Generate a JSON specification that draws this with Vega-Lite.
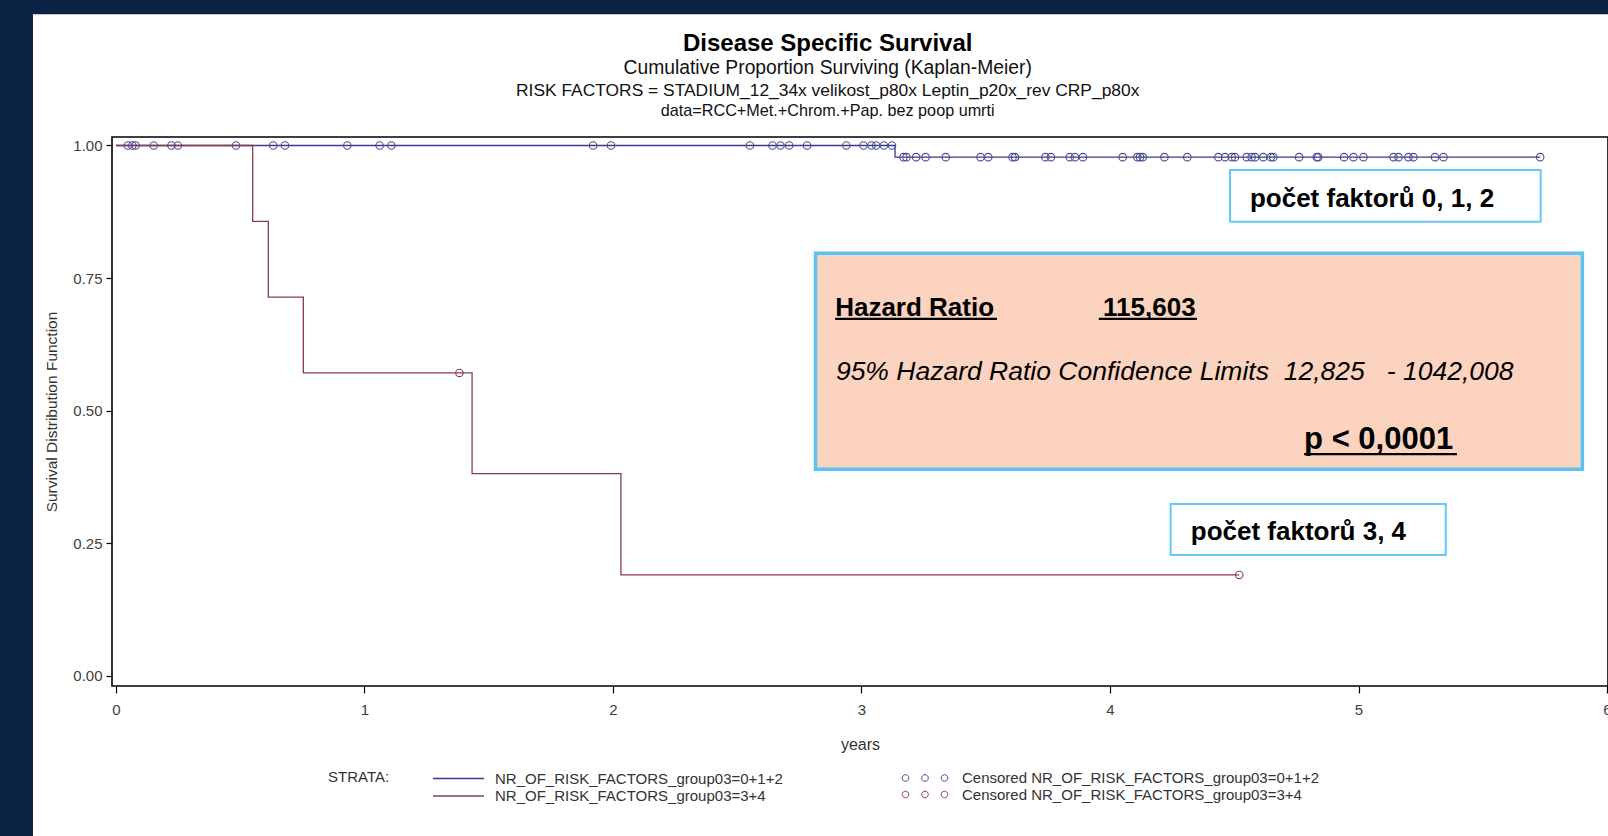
{
  "$schema": "https://vega.github.io/schema/vega-lite/v6.json",
  "width": 1496,
  "height": 549,
  "autosize": {"type": "none"},
  "padding": {"left": 112, "top": 137, "right": 0, "bottom": 150},
  "background": "#ffffff",
  "config": {
    "view": {"stroke": null},
    "font": "Liberation Sans",
    "text": {"font": "Liberation Sans"}
  },
  "resolve": {"axis": {"x": "independent", "y": "independent"}},
  "layer": [
    {
      "data": {"values": [
        {"x0": -0.6, "x1": -0.334, "y0": -0.6, "y1": 1.7},
        {"x0": -0.6, "x1": 6.7, "y0": 1.2476, "y1": 1.7}
      ]},
      "mark": {"type": "rect", "fill": "#0c2244", "clip": false},
      "encoding": {
        "x": {"field": "x0", "type": "quantitative", "scale": {"domain": [-0.016, 6.004], "nice": false, "zero": false}, "axis": null},
        "x2": {"field": "x1"},
        "y": {"field": "y0", "type": "quantitative", "scale": {"domain": [-0.0195, 1.016], "nice": false, "zero": false}, "axis": null},
        "y2": {"field": "y1"}
      }
    },
    {
      "data": {"values": [
        {"strata": "NR_OF_RISK_FACTORS_group03=0+1+2", "years": 0, "survival": 1},
        {"strata": "NR_OF_RISK_FACTORS_group03=0+1+2", "years": 3.135, "survival": 0.978},
        {"strata": "NR_OF_RISK_FACTORS_group03=0+1+2", "years": 5.731, "survival": 0.978},
        {"strata": "NR_OF_RISK_FACTORS_group03=3+4", "years": 0, "survival": 1},
        {"strata": "NR_OF_RISK_FACTORS_group03=3+4", "years": 0.55, "survival": 0.857},
        {"strata": "NR_OF_RISK_FACTORS_group03=3+4", "years": 0.613, "survival": 0.714},
        {"strata": "NR_OF_RISK_FACTORS_group03=3+4", "years": 0.754, "survival": 0.571},
        {"strata": "NR_OF_RISK_FACTORS_group03=3+4", "years": 1.433, "survival": 0.381},
        {"strata": "NR_OF_RISK_FACTORS_group03=3+4", "years": 2.032, "survival": 0.19},
        {"strata": "NR_OF_RISK_FACTORS_group03=3+4", "years": 4.52, "survival": 0.19}
      ]},
      "mark": {"type": "line", "interpolate": "step-after", "strokeWidth": 1.3},
      "encoding": {
        "x": {"field": "years", "type": "quantitative", "scale": {"domain": [-0.016, 6.004], "nice": false, "zero": false},
          "axis": {"orient": "bottom", "title": "years", "values": [0, 1, 2, 3, 4, 5, 6], "format": "d", "grid": false, "domain": false,
            "tickColor": "#000000", "tickSize": 7, "tickWidth": 1.2,
            "labelFontSize": 15, "labelColor": "#404040", "labelPadding": 9, "labelFlush": false, "labelOverlap": false, "labelBound": false,
            "titleFontSize": 16, "titleFontWeight": "normal", "titleColor": "#333333", "titlePadding": 19, "zindex": 1}},
        "y": {"field": "survival", "type": "quantitative", "scale": {"domain": [-0.0195, 1.016], "nice": false, "zero": false},
          "axis": {"orient": "left", "title": "Survival Distribution Function", "values": [0, 0.25, 0.5, 0.75, 1], "format": ".2f", "grid": false, "domain": false,
            "tickColor": "#000000", "tickSize": 6, "tickWidth": 1.2,
            "labelFontSize": 15, "labelColor": "#404040", "labelPadding": 4, "labelFlush": false, "labelOverlap": false,
            "titleFontSize": 15.5, "titleFontWeight": "normal", "titleColor": "#333333", "titlePadding": 13, "zindex": 1}},
        "color": {"field": "strata", "type": "nominal",
          "scale": {"domain": ["NR_OF_RISK_FACTORS_group03=0+1+2", "NR_OF_RISK_FACTORS_group03=3+4"], "range": ["#3a3a8c", "#8c3c4c"]},
          "legend": {"orient": "none", "legendX": 216, "legendY": 633, "direction": "vertical", "title": "STRATA:", "titleOrient": "left",
            "titleAnchor": "start", "titlePadding": 60, "titleFontSize": 15, "titleFontWeight": "normal", "titleColor": "#333333", "titleBaseline": "top",
            "symbolType": "M-3.4,0H3.4", "symbolSize": 225, "symbolStrokeWidth": 1.5, "symbolFillColor": "transparent",
            "labelFontSize": 15, "labelColor": "#333333", "labelOffset": 28, "labelLimit": 600, "rowPadding": 0.5, "padding": 0}}
      }
    },
    {
      "data": {"values": [
        {"cens": "Censored NR_OF_RISK_FACTORS_group03=0+1+2", "years": 0.048, "survival": 1},
        {"cens": "Censored NR_OF_RISK_FACTORS_group03=0+1+2", "years": 0.066, "survival": 1},
        {"cens": "Censored NR_OF_RISK_FACTORS_group03=0+1+2", "years": 0.079, "survival": 1},
        {"cens": "Censored NR_OF_RISK_FACTORS_group03=0+1+2", "years": 0.152, "survival": 1},
        {"cens": "Censored NR_OF_RISK_FACTORS_group03=0+1+2", "years": 0.223, "survival": 1},
        {"cens": "Censored NR_OF_RISK_FACTORS_group03=0+1+2", "years": 0.249, "survival": 1},
        {"cens": "Censored NR_OF_RISK_FACTORS_group03=0+1+2", "years": 0.483, "survival": 1},
        {"cens": "Censored NR_OF_RISK_FACTORS_group03=0+1+2", "years": 0.633, "survival": 1},
        {"cens": "Censored NR_OF_RISK_FACTORS_group03=0+1+2", "years": 0.68, "survival": 1},
        {"cens": "Censored NR_OF_RISK_FACTORS_group03=0+1+2", "years": 0.931, "survival": 1},
        {"cens": "Censored NR_OF_RISK_FACTORS_group03=0+1+2", "years": 1.061, "survival": 1},
        {"cens": "Censored NR_OF_RISK_FACTORS_group03=0+1+2", "years": 1.108, "survival": 1},
        {"cens": "Censored NR_OF_RISK_FACTORS_group03=0+1+2", "years": 1.92, "survival": 1},
        {"cens": "Censored NR_OF_RISK_FACTORS_group03=0+1+2", "years": 1.992, "survival": 1},
        {"cens": "Censored NR_OF_RISK_FACTORS_group03=0+1+2", "years": 2.551, "survival": 1},
        {"cens": "Censored NR_OF_RISK_FACTORS_group03=0+1+2", "years": 2.642, "survival": 1},
        {"cens": "Censored NR_OF_RISK_FACTORS_group03=0+1+2", "years": 2.674, "survival": 1},
        {"cens": "Censored NR_OF_RISK_FACTORS_group03=0+1+2", "years": 2.709, "survival": 1},
        {"cens": "Censored NR_OF_RISK_FACTORS_group03=0+1+2", "years": 2.781, "survival": 1},
        {"cens": "Censored NR_OF_RISK_FACTORS_group03=0+1+2", "years": 2.939, "survival": 1},
        {"cens": "Censored NR_OF_RISK_FACTORS_group03=0+1+2", "years": 3.008, "survival": 1},
        {"cens": "Censored NR_OF_RISK_FACTORS_group03=0+1+2", "years": 3.04, "survival": 1},
        {"cens": "Censored NR_OF_RISK_FACTORS_group03=0+1+2", "years": 3.059, "survival": 1},
        {"cens": "Censored NR_OF_RISK_FACTORS_group03=0+1+2", "years": 3.09, "survival": 1},
        {"cens": "Censored NR_OF_RISK_FACTORS_group03=0+1+2", "years": 3.123, "survival": 1},
        {"cens": "Censored NR_OF_RISK_FACTORS_group03=0+1+2", "years": 3.169, "survival": 0.978},
        {"cens": "Censored NR_OF_RISK_FACTORS_group03=0+1+2", "years": 3.181, "survival": 0.978},
        {"cens": "Censored NR_OF_RISK_FACTORS_group03=0+1+2", "years": 3.22, "survival": 0.978},
        {"cens": "Censored NR_OF_RISK_FACTORS_group03=0+1+2", "years": 3.258, "survival": 0.978},
        {"cens": "Censored NR_OF_RISK_FACTORS_group03=0+1+2", "years": 3.339, "survival": 0.978},
        {"cens": "Censored NR_OF_RISK_FACTORS_group03=0+1+2", "years": 3.479, "survival": 0.978},
        {"cens": "Censored NR_OF_RISK_FACTORS_group03=0+1+2", "years": 3.51, "survival": 0.978},
        {"cens": "Censored NR_OF_RISK_FACTORS_group03=0+1+2", "years": 3.608, "survival": 0.978},
        {"cens": "Censored NR_OF_RISK_FACTORS_group03=0+1+2", "years": 3.618, "survival": 0.978},
        {"cens": "Censored NR_OF_RISK_FACTORS_group03=0+1+2", "years": 3.74, "survival": 0.978},
        {"cens": "Censored NR_OF_RISK_FACTORS_group03=0+1+2", "years": 3.762, "survival": 0.978},
        {"cens": "Censored NR_OF_RISK_FACTORS_group03=0+1+2", "years": 3.838, "survival": 0.978},
        {"cens": "Censored NR_OF_RISK_FACTORS_group03=0+1+2", "years": 3.859, "survival": 0.978},
        {"cens": "Censored NR_OF_RISK_FACTORS_group03=0+1+2", "years": 3.891, "survival": 0.978},
        {"cens": "Censored NR_OF_RISK_FACTORS_group03=0+1+2", "years": 4.051, "survival": 0.978},
        {"cens": "Censored NR_OF_RISK_FACTORS_group03=0+1+2", "years": 4.11, "survival": 0.978},
        {"cens": "Censored NR_OF_RISK_FACTORS_group03=0+1+2", "years": 4.121, "survival": 0.978},
        {"cens": "Censored NR_OF_RISK_FACTORS_group03=0+1+2", "years": 4.132, "survival": 0.978},
        {"cens": "Censored NR_OF_RISK_FACTORS_group03=0+1+2", "years": 4.219, "survival": 0.978},
        {"cens": "Censored NR_OF_RISK_FACTORS_group03=0+1+2", "years": 4.311, "survival": 0.978},
        {"cens": "Censored NR_OF_RISK_FACTORS_group03=0+1+2", "years": 4.436, "survival": 0.978},
        {"cens": "Censored NR_OF_RISK_FACTORS_group03=0+1+2", "years": 4.463, "survival": 0.978},
        {"cens": "Censored NR_OF_RISK_FACTORS_group03=0+1+2", "years": 4.49, "survival": 0.978},
        {"cens": "Censored NR_OF_RISK_FACTORS_group03=0+1+2", "years": 4.503, "survival": 0.978},
        {"cens": "Censored NR_OF_RISK_FACTORS_group03=0+1+2", "years": 4.55, "survival": 0.978},
        {"cens": "Censored NR_OF_RISK_FACTORS_group03=0+1+2", "years": 4.57, "survival": 0.978},
        {"cens": "Censored NR_OF_RISK_FACTORS_group03=0+1+2", "years": 4.584, "survival": 0.978},
        {"cens": "Censored NR_OF_RISK_FACTORS_group03=0+1+2", "years": 4.617, "survival": 0.978},
        {"cens": "Censored NR_OF_RISK_FACTORS_group03=0+1+2", "years": 4.647, "survival": 0.978},
        {"cens": "Censored NR_OF_RISK_FACTORS_group03=0+1+2", "years": 4.657, "survival": 0.978},
        {"cens": "Censored NR_OF_RISK_FACTORS_group03=0+1+2", "years": 4.761, "survival": 0.978},
        {"cens": "Censored NR_OF_RISK_FACTORS_group03=0+1+2", "years": 4.832, "survival": 0.978},
        {"cens": "Censored NR_OF_RISK_FACTORS_group03=0+1+2", "years": 4.838, "survival": 0.978},
        {"cens": "Censored NR_OF_RISK_FACTORS_group03=0+1+2", "years": 4.942, "survival": 0.978},
        {"cens": "Censored NR_OF_RISK_FACTORS_group03=0+1+2", "years": 4.98, "survival": 0.978},
        {"cens": "Censored NR_OF_RISK_FACTORS_group03=0+1+2", "years": 5.02, "survival": 0.978},
        {"cens": "Censored NR_OF_RISK_FACTORS_group03=0+1+2", "years": 5.141, "survival": 0.978},
        {"cens": "Censored NR_OF_RISK_FACTORS_group03=0+1+2", "years": 5.161, "survival": 0.978},
        {"cens": "Censored NR_OF_RISK_FACTORS_group03=0+1+2", "years": 5.201, "survival": 0.978},
        {"cens": "Censored NR_OF_RISK_FACTORS_group03=0+1+2", "years": 5.221, "survival": 0.978},
        {"cens": "Censored NR_OF_RISK_FACTORS_group03=0+1+2", "years": 5.308, "survival": 0.978},
        {"cens": "Censored NR_OF_RISK_FACTORS_group03=0+1+2", "years": 5.342, "survival": 0.978},
        {"cens": "Censored NR_OF_RISK_FACTORS_group03=0+1+2", "years": 5.731, "survival": 0.978},
        {"cens": "Censored NR_OF_RISK_FACTORS_group03=3+4", "years": 1.382, "survival": 0.571},
        {"cens": "Censored NR_OF_RISK_FACTORS_group03=3+4", "years": 4.52, "survival": 0.19}
      ]},
      "mark": {"type": "point", "shape": "circle", "filled": false, "size": 56, "strokeWidth": 1.1, "opacity": 1},
      "encoding": {
        "x": {"field": "years", "type": "quantitative", "scale": {"domain": [-0.016, 6.004], "nice": false, "zero": false}, "axis": null},
        "y": {"field": "survival", "type": "quantitative", "scale": {"domain": [-0.0195, 1.016], "nice": false, "zero": false}, "axis": null},
        "stroke": {"field": "cens", "type": "nominal",
          "scale": {"domain": ["Censored NR_OF_RISK_FACTORS_group03=0+1+2", "Censored NR_OF_RISK_FACTORS_group03=3+4"], "range": ["#4a4a96", "#8c3c4c"]},
          "legend": {"orient": "none", "legendX": 805, "legendY": 633, "direction": "vertical", "title": null,
            "symbolType": "M-2.16,0A0.44,0.44,0,1,1,-3.04,0A0.44,0.44,0,1,1,-2.16,0ZM0.44,0A0.44,0.44,0,1,1,-0.44,0A0.44,0.44,0,1,1,0.44,0ZM3.04,0A0.44,0.44,0,1,1,2.16,0A0.44,0.44,0,1,1,3.04,0Z",
            "symbolSize": 225, "symbolStrokeWidth": 1, "symbolFillColor": "transparent", "labelFontSize": 15, "labelColor": "#333333",
            "labelOffset": 29, "labelLimit": 600, "rowPadding": 0.5, "padding": 0}}
      }
    },
    {
      "data": {"values": [{"x0": -0.016, "x1": 6.004, "y0": -0.0195, "y1": 1.016}]},
      "mark": {"type": "rect", "fill": null, "fillOpacity": 0, "stroke": "#000000", "strokeWidth": 1.6, "clip": false},
      "encoding": {
        "x": {"field": "x0", "type": "quantitative", "scale": {"domain": [-0.016, 6.004], "nice": false, "zero": false}, "axis": null},
        "x2": {"field": "x1"},
        "y": {"field": "y0", "type": "quantitative", "scale": {"domain": [-0.0195, 1.016], "nice": false, "zero": false}, "axis": null},
        "y2": {"field": "y1"}
      }
    },
    {
      "data": {"values": [
        {"x0": 4.483, "x1": 5.733, "y0": 0.8563, "y1": 0.9538},
        {"x0": 4.244, "x1": 5.351, "y0": 0.2277, "y1": 0.3238}
      ]},
      "mark": {"type": "rect", "fill": "#ffffff", "stroke": "#66c8f5", "strokeWidth": 2},
      "encoding": {
        "x": {"field": "x0", "type": "quantitative", "scale": {"domain": [-0.016, 6.004], "nice": false, "zero": false}, "axis": null},
        "x2": {"field": "x1"},
        "y": {"field": "y0", "type": "quantitative", "scale": {"domain": [-0.0195, 1.016], "nice": false, "zero": false}, "axis": null},
        "y2": {"field": "y1"}
      }
    },
    {
      "data": {"values": [{"x0": 2.815, "x1": 5.901, "y0": 0.3893, "y1": 0.7967}]},
      "mark": {"type": "rect", "fill": "#fcd3bf", "stroke": "#5bc2f4", "strokeWidth": 3.5},
      "encoding": {
        "x": {"field": "x0", "type": "quantitative", "scale": {"domain": [-0.016, 6.004], "nice": false, "zero": false}, "axis": null},
        "x2": {"field": "x1"},
        "y": {"field": "y0", "type": "quantitative", "scale": {"domain": [-0.0195, 1.016], "nice": false, "zero": false}, "axis": null},
        "y2": {"field": "y1"}
      }
    },
    {
      "data": {"values": [
        {"label": "počet faktorů 0, 1, 2", "xpos": 4.563, "ypos": 0.9},
        {"label": "počet faktorů 3, 4", "xpos": 4.325, "ypos": 0.2717}
      ]},
      "mark": {"type": "text", "align": "left", "baseline": "middle", "fontSize": 26, "fontWeight": "bold", "color": "#000000"},
      "encoding": {
        "x": {"field": "xpos", "type": "quantitative", "scale": {"domain": [-0.016, 6.004], "nice": false, "zero": false}, "axis": null},
        "y": {"field": "ypos", "type": "quantitative", "scale": {"domain": [-0.0195, 1.016], "nice": false, "zero": false}, "axis": null},
        "text": {"field": "label"}
      }
    },
    {
      "data": {"values": [
        {"label": "Hazard Ratio", "xpos": 2.894, "ypos": 0.6784},
        {"label": "115,603", "xpos": 3.972, "ypos": 0.6784}
      ]},
      "mark": {"type": "text", "align": "left", "baseline": "alphabetic", "fontSize": 26, "fontWeight": "bold", "color": "#000000"},
      "encoding": {
        "x": {"field": "xpos", "type": "quantitative", "scale": {"domain": [-0.016, 6.004], "nice": false, "zero": false}, "axis": null},
        "y": {"field": "ypos", "type": "quantitative", "scale": {"domain": [-0.0195, 1.016], "nice": false, "zero": false}, "axis": null},
        "text": {"field": "label"}
      }
    },
    {
      "data": {"values": [
        {"label": "95% Hazard Ratio Confidence Limits\u00a0 12,825\u00a0 \u00a0- 1042,008", "xpos": 2.897, "ypos": 0.5577}
      ]},
      "mark": {"type": "text", "align": "left", "baseline": "alphabetic", "fontSize": 26.5, "fontStyle": "italic", "color": "#000000"},
      "encoding": {
        "x": {"field": "xpos", "type": "quantitative", "scale": {"domain": [-0.016, 6.004], "nice": false, "zero": false}, "axis": null},
        "y": {"field": "ypos", "type": "quantitative", "scale": {"domain": [-0.0195, 1.016], "nice": false, "zero": false}, "axis": null},
        "text": {"field": "label"}
      }
    },
    {
      "data": {"values": [
        {"label": "p < 0,0001", "xpos": 4.781, "ypos": 0.4275}
      ]},
      "mark": {"type": "text", "align": "left", "baseline": "alphabetic", "fontSize": 31, "fontWeight": "bold", "color": "#000000"},
      "encoding": {
        "x": {"field": "xpos", "type": "quantitative", "scale": {"domain": [-0.016, 6.004], "nice": false, "zero": false}, "axis": null},
        "y": {"field": "ypos", "type": "quantitative", "scale": {"domain": [-0.0195, 1.016], "nice": false, "zero": false}, "axis": null},
        "text": {"field": "label"}
      }
    },
    {
      "data": {"values": [
        {"x0": 2.894, "x1": 3.545, "ypos": 0.6728},
        {"x0": 3.955, "x1": 4.35, "ypos": 0.6728},
        {"x0": 4.781, "x1": 5.396, "ypos": 0.418}
      ]},
      "mark": {"type": "rule", "color": "#000000", "strokeWidth": 2.2},
      "encoding": {
        "x": {"field": "x0", "type": "quantitative", "scale": {"domain": [-0.016, 6.004], "nice": false, "zero": false}, "axis": null},
        "x2": {"field": "x1"},
        "y": {"field": "ypos", "type": "quantitative", "scale": {"domain": [-0.0195, 1.016], "nice": false, "zero": false}, "axis": null}
      }
    },
    {
      "data": {"values": [{"label": "Disease Specific Survival", "xpos": 2.864, "ypos": 1.191}]},
      "mark": {"type": "text", "align": "center", "baseline": "middle", "fontSize": 24, "fontWeight": "bold", "color": "#000000", "clip": false},
      "encoding": {
        "x": {"field": "xpos", "type": "quantitative", "scale": {"domain": [-0.016, 6.004], "nice": false, "zero": false}, "axis": null},
        "y": {"field": "ypos", "type": "quantitative", "scale": {"domain": [-0.0195, 1.016], "nice": false, "zero": false}, "axis": null},
        "text": {"field": "label"}
      }
    },
    {
      "data": {"values": [{"label": "Cumulative Proportion Surviving (Kaplan-Meier)", "xpos": 2.864, "ypos": 1.1467}]},
      "mark": {"type": "text", "align": "center", "baseline": "middle", "fontSize": 19.3, "color": "#111111", "clip": false},
      "encoding": {
        "x": {"field": "xpos", "type": "quantitative", "scale": {"domain": [-0.016, 6.004], "nice": false, "zero": false}, "axis": null},
        "y": {"field": "ypos", "type": "quantitative", "scale": {"domain": [-0.0195, 1.016], "nice": false, "zero": false}, "axis": null},
        "text": {"field": "label"}
      }
    },
    {
      "data": {"values": [{"label": "RISK FACTORS = STADIUM_12_34x velikost_p80x Leptin_p20x_rev CRP_p80x", "xpos": 2.864, "ypos": 1.1037}]},
      "mark": {"type": "text", "align": "center", "baseline": "middle", "fontSize": 17.4, "color": "#111111", "clip": false},
      "encoding": {
        "x": {"field": "xpos", "type": "quantitative", "scale": {"domain": [-0.016, 6.004], "nice": false, "zero": false}, "axis": null},
        "y": {"field": "ypos", "type": "quantitative", "scale": {"domain": [-0.0195, 1.016], "nice": false, "zero": false}, "axis": null},
        "text": {"field": "label"}
      }
    },
    {
      "data": {"values": [{"label": "data=RCC+Met.+Chrom.+Pap. bez poop umrti", "xpos": 2.864, "ypos": 1.0641}]},
      "mark": {"type": "text", "align": "center", "baseline": "middle", "fontSize": 16.2, "color": "#111111", "clip": false},
      "encoding": {
        "x": {"field": "xpos", "type": "quantitative", "scale": {"domain": [-0.016, 6.004], "nice": false, "zero": false}, "axis": null},
        "y": {"field": "ypos", "type": "quantitative", "scale": {"domain": [-0.0195, 1.016], "nice": false, "zero": false}, "axis": null},
        "text": {"field": "label"}
      }
    }
  ]
}
